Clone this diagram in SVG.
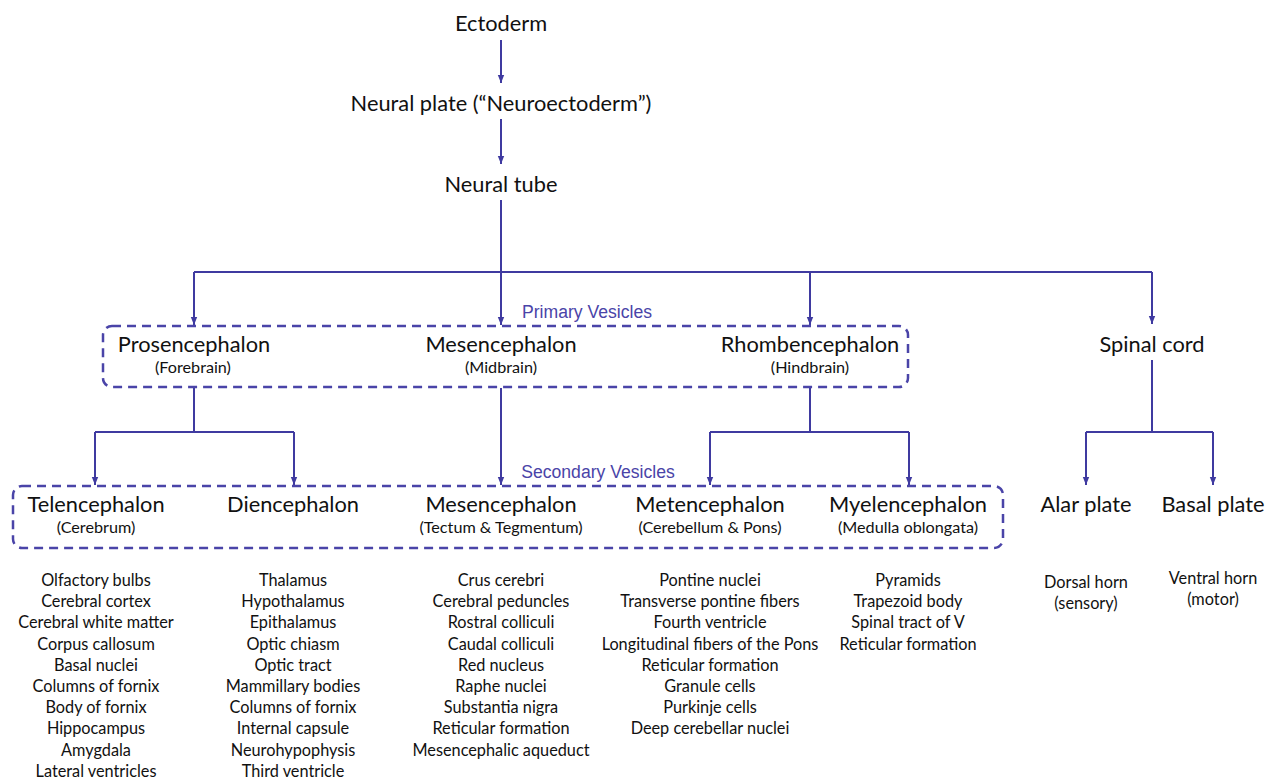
<svg xmlns="http://www.w3.org/2000/svg" width="1266" height="782" viewBox="0 0 1266 782">
<style>
.t{font-family:Lato,"Open Sans","Liberation Sans",sans-serif;fill:#111;text-anchor:middle}
.h{font-size:21.8px}
.s{font-size:16.2px}
.l{font-size:16.3px}
.v{font-family:"Liberation Sans",Arial,sans-serif;font-size:17.6px;fill:#4a44a8;text-anchor:middle}
.c{fill:none;stroke:#3f3aa0;stroke-width:2}
.b{fill:none;stroke:#4a44a8;stroke-width:2.5;stroke-dasharray:9,6}
</style>
<defs>
<marker id="a" viewBox="0 0 10 10" refX="10" refY="5" markerWidth="8" markerHeight="8" markerUnits="userSpaceOnUse" orient="auto">
<path d="M0,1 L10,5 L0,9 z" fill="#3f3aa0"/>
</marker>
</defs>
<rect width="1266" height="782" fill="#fff"/>
<g id="connectors">
<path class="c" d="M501,40 V83" marker-end="url(#a)"/>
<path class="c" d="M501,119 V164" marker-end="url(#a)"/>
<path class="c" d="M501,200 V272"/>
<path class="c" d="M194,272 H1152"/>
<path class="c" d="M194,272 V325" marker-end="url(#a)"/>
<path class="c" d="M501,272 V325" marker-end="url(#a)"/>
<path class="c" d="M810,272 V325" marker-end="url(#a)"/>
<path class="c" d="M1152,272 V324" marker-end="url(#a)"/>
<path class="c" d="M194,388 V432 M95,432 H294"/>
<path class="c" d="M95,432 V485" marker-end="url(#a)"/>
<path class="c" d="M294,432 V485" marker-end="url(#a)"/>
<path class="c" d="M501,388 V485" marker-end="url(#a)"/>
<path class="c" d="M810,388 V432 M710,432 H909"/>
<path class="c" d="M710,432 V485" marker-end="url(#a)"/>
<path class="c" d="M909,432 V485" marker-end="url(#a)"/>
<path class="c" d="M1152,360 V432 M1086,432 H1213"/>
<path class="c" d="M1086,432 V485" marker-end="url(#a)"/>
<path class="c" d="M1213,432 V485" marker-end="url(#a)"/>
</g>
<g id="ectoderm"><text class="t h" x="501" y="31">Ectoderm</text></g>
<g id="neural-plate"><text class="t h" x="501" y="111">Neural plate (“Neuroectoderm”)</text></g>
<g id="neural-tube"><text class="t h" x="501" y="192">Neural tube</text></g>
<g id="primary-vesicles">
<rect class="b" x="103" y="326" width="805" height="61" rx="9"/>
<text class="v" x="587" y="318">Primary Vesicles</text>
</g>
<g id="prosencephalon"><text class="t h" x="194" y="352">Prosencephalon</text><text class="t s" x="193" y="373">(Forebrain)</text></g>
<g id="mesencephalon1"><text class="t h" x="501" y="352">Mesencephalon</text><text class="t s" x="501" y="373">(Midbrain)</text></g>
<g id="rhombencephalon"><text class="t h" x="810" y="352">Rhombencephalon</text><text class="t s" x="810" y="373">(Hindbrain)</text></g>
<g id="spinal-cord"><text class="t h" x="1152" y="352">Spinal cord</text></g>
<g id="secondary-vesicles">
<rect class="b" x="13" y="486" width="990" height="62" rx="9"/>
<text class="v" x="598" y="478">Secondary Vesicles</text>
</g>
<g id="telencephalon"><text class="t h" x="96" y="512">Telencephalon</text><text class="t s" x="96" y="533">(Cerebrum)</text></g>
<g id="diencephalon"><text class="t h" x="293" y="512">Diencephalon</text></g>
<g id="mesencephalon2"><text class="t h" x="501" y="512">Mesencephalon</text><text class="t s" x="501" y="533">(Tectum &amp; Tegmentum)</text></g>
<g id="metencephalon"><text class="t h" x="710" y="512">Metencephalon</text><text class="t s" x="710" y="533">(Cerebellum &amp; Pons)</text></g>
<g id="myelencephalon"><text class="t h" x="908" y="512">Myelencephalon</text><text class="t s" x="908" y="533">(Medulla oblongata)</text></g>
<g id="alar-plate"><text class="t h" x="1086" y="512">Alar plate</text></g>
<g id="basal-plate"><text class="t h" x="1213" y="512">Basal plate</text></g>
<g id="list-telencephalon">
<text class="t l" x="96" y="586">Olfactory bulbs</text>
<text class="t l" x="96" y="607">Cerebral cortex</text>
<text class="t l" x="96" y="628">Cerebral white matter</text>
<text class="t l" x="96" y="650">Corpus callosum</text>
<text class="t l" x="96" y="671">Basal nuclei</text>
<text class="t l" x="96" y="692">Columns of fornix</text>
<text class="t l" x="96" y="713">Body of fornix</text>
<text class="t l" x="96" y="734">Hippocampus</text>
<text class="t l" x="96" y="756">Amygdala</text>
<text class="t l" x="96" y="777">Lateral ventricles</text>
</g>
<g id="list-diencephalon">
<text class="t l" x="293" y="586">Thalamus</text>
<text class="t l" x="293" y="607">Hypothalamus</text>
<text class="t l" x="293" y="628">Epithalamus</text>
<text class="t l" x="293" y="650">Optic chiasm</text>
<text class="t l" x="293" y="671">Optic tract</text>
<text class="t l" x="293" y="692">Mammillary bodies</text>
<text class="t l" x="293" y="713">Columns of fornix</text>
<text class="t l" x="293" y="734">Internal capsule</text>
<text class="t l" x="293" y="756">Neurohypophysis</text>
<text class="t l" x="293" y="777">Third ventricle</text>
</g>
<g id="list-mesencephalon">
<text class="t l" x="501" y="586">Crus cerebri</text>
<text class="t l" x="501" y="607">Cerebral peduncles</text>
<text class="t l" x="501" y="628">Rostral colliculi</text>
<text class="t l" x="501" y="650">Caudal colliculi</text>
<text class="t l" x="501" y="671">Red nucleus</text>
<text class="t l" x="501" y="692">Raphe nuclei</text>
<text class="t l" x="501" y="713">Substantia nigra</text>
<text class="t l" x="501" y="734">Reticular formation</text>
<text class="t l" x="501" y="756">Mesencephalic aqueduct</text>
</g>
<g id="list-metencephalon">
<text class="t l" x="710" y="586">Pontine nuclei</text>
<text class="t l" x="710" y="607">Transverse pontine fibers</text>
<text class="t l" x="710" y="628">Fourth ventricle</text>
<text class="t l" x="710" y="650">Longitudinal fibers of the Pons</text>
<text class="t l" x="710" y="671">Reticular formation</text>
<text class="t l" x="710" y="692">Granule cells</text>
<text class="t l" x="710" y="713">Purkinje cells</text>
<text class="t l" x="710" y="734">Deep cerebellar nuclei</text>
</g>
<g id="list-myelencephalon">
<text class="t l" x="908" y="586">Pyramids</text>
<text class="t l" x="908" y="607">Trapezoid body</text>
<text class="t l" x="908" y="628">Spinal tract of V</text>
<text class="t l" x="908" y="650">Reticular formation</text>
</g>
<g id="list-alar">
<text class="t l" x="1086" y="588">Dorsal horn</text>
<text class="t l" x="1086" y="609">(sensory)</text>
</g>
<g id="list-basal">
<text class="t l" x="1213" y="584">Ventral horn</text>
<text class="t l" x="1213" y="605">(motor)</text>
</g>
</svg>
